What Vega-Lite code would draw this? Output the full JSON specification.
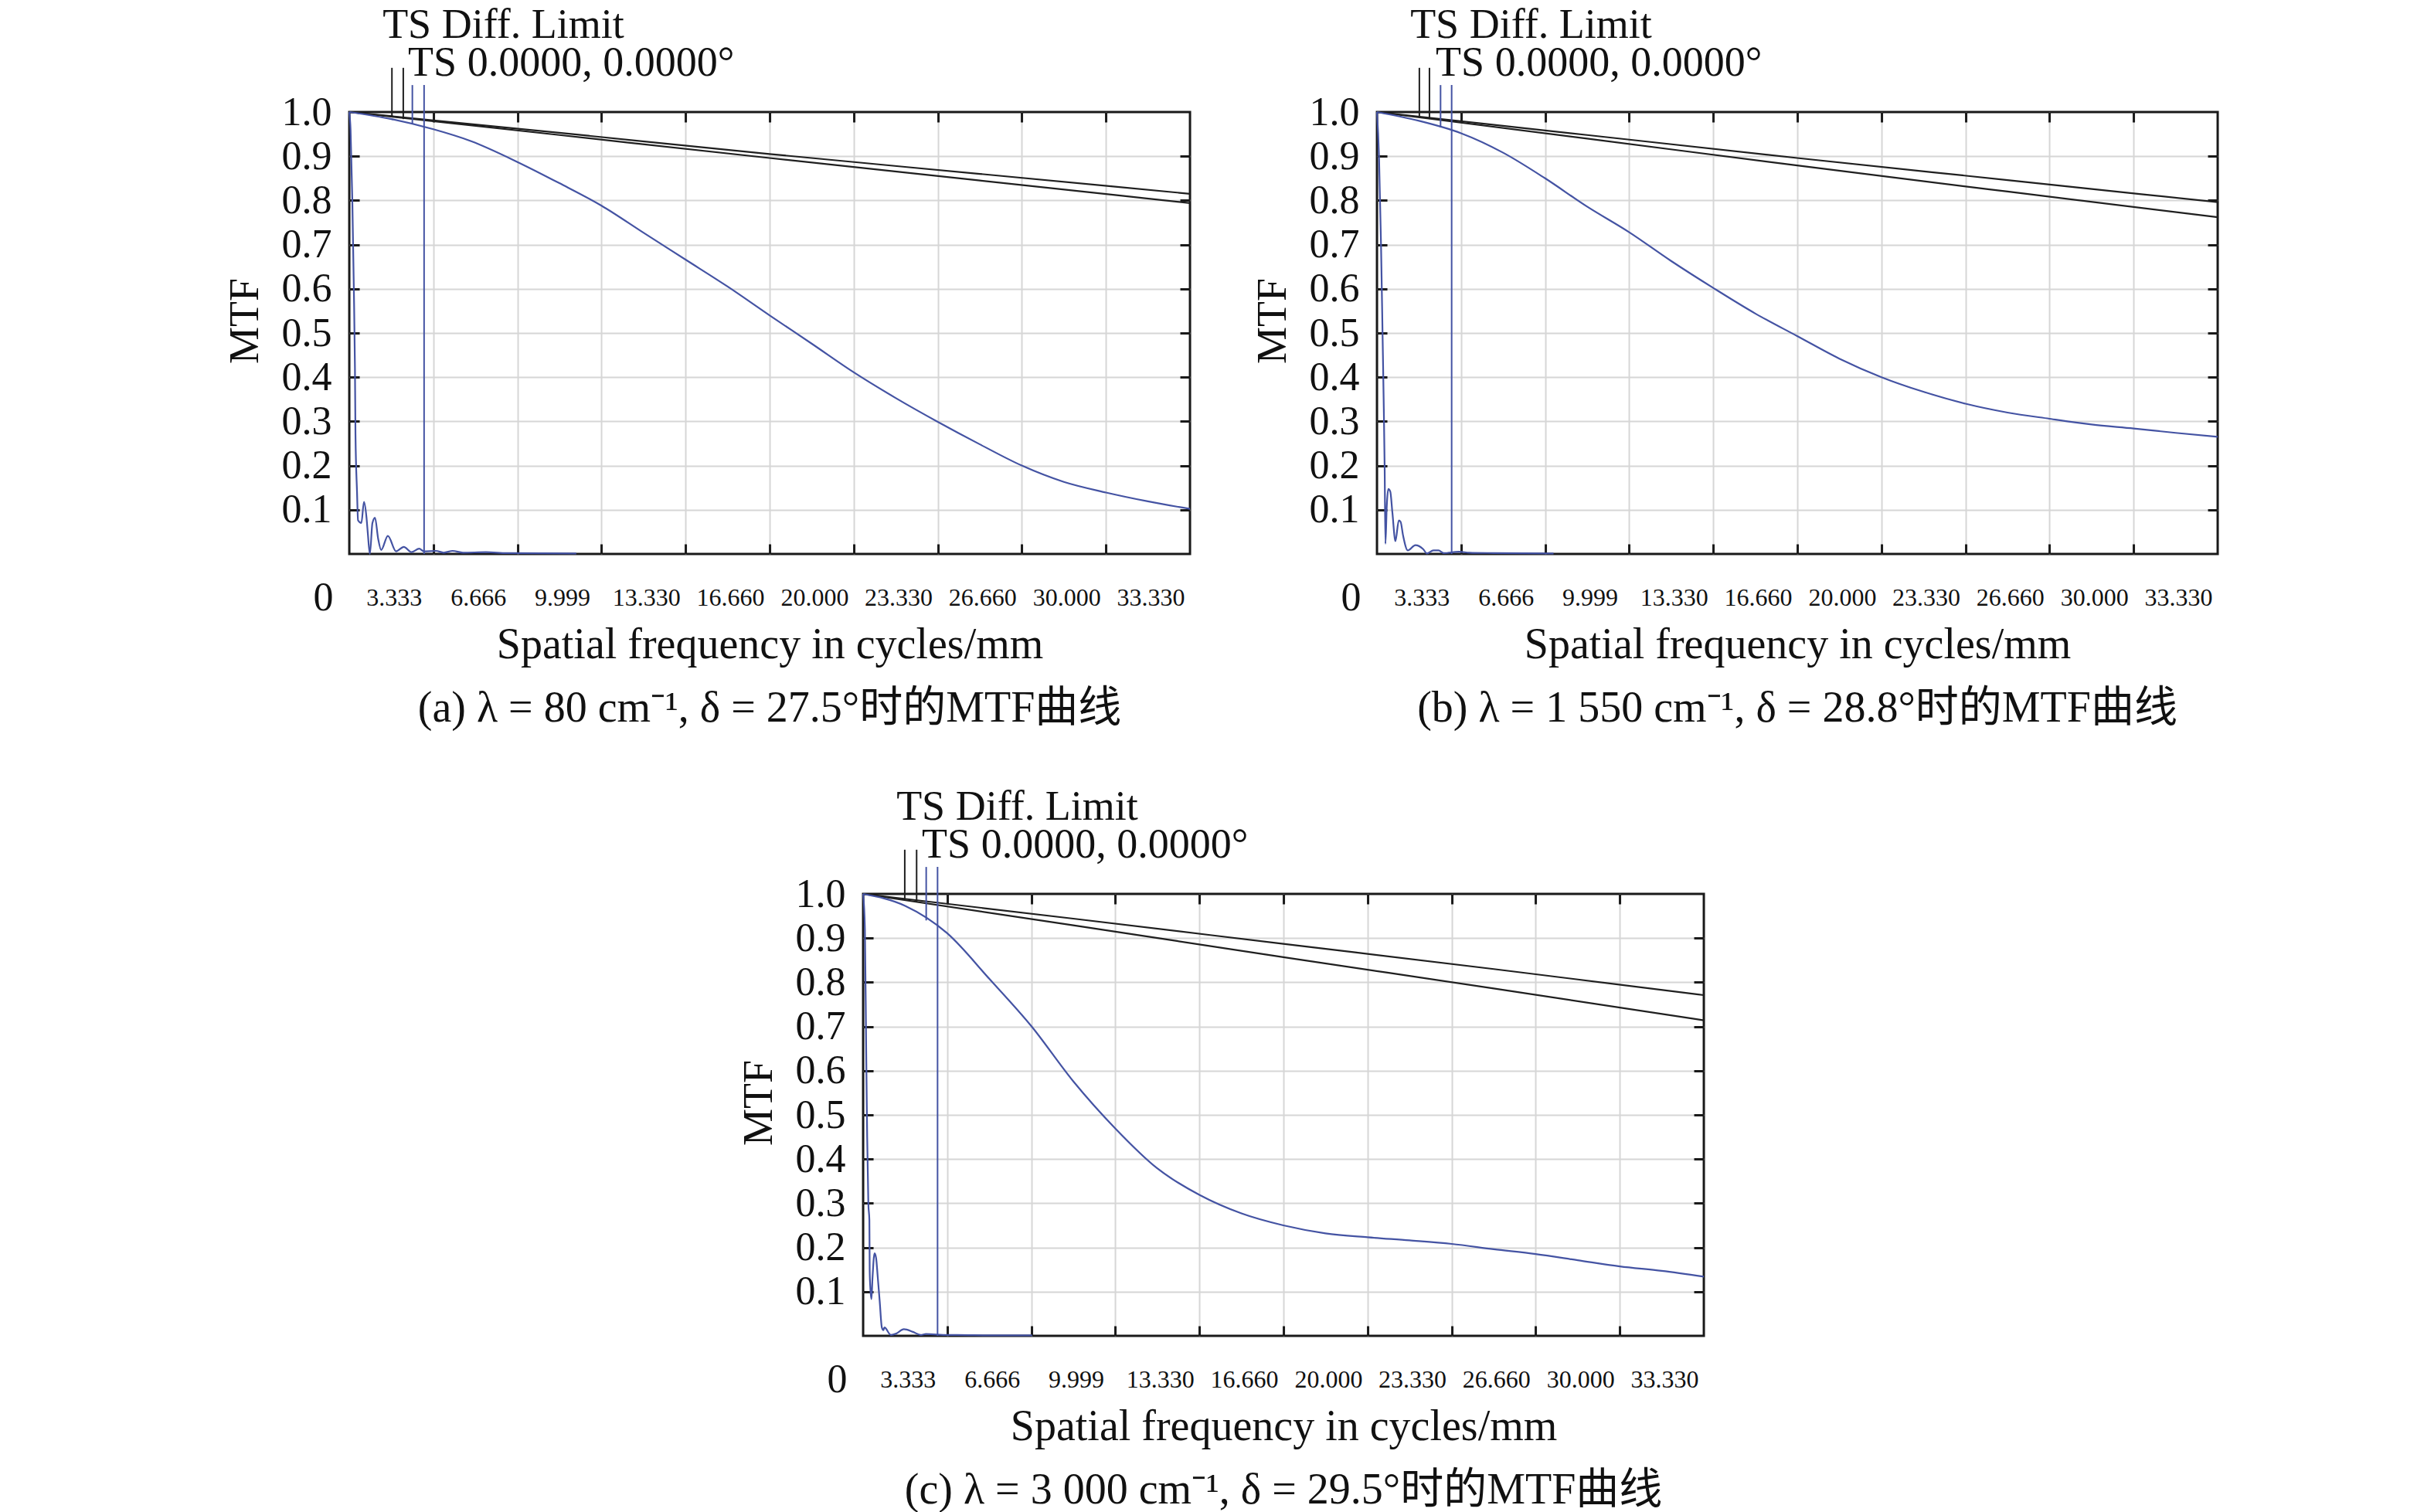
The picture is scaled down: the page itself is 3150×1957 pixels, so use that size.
{
  "$schema": "https://vega.github.io/schema/vega-lite/v6.json",
  "background": "white",
  "padding": {"left": 288, "top": 4, "right": 10, "bottom": 0},
  "config": {
    "font": "Liberation Serif",
    "view": {"stroke": "#1a1a1a", "strokeWidth": 3},
    "axis": {"labelFont": "Liberation Serif", "titleFont": "Liberation Serif", "labelColor": "#111111", "titleColor": "#111111", "titleFontWeight": "normal"},
    "title": {"font": "Liberation Serif, Noto Sans CJK SC", "fontWeight": "normal", "color": "#111111"},
    "text": {"font": "Liberation Serif"}
  },
  "datasets": {
    "labels": [
      {"f": 1.32, "y": 1.167, "label": "TS Diff. Limit"},
      {"f": 2.33, "y": 1.082, "label": "TS 0.0000, 0.0000°"}
    ],
    "a_lead": [
      {"s": "diffT", "f": 1.69, "y1": 1.1, "y2": 0.988},
      {"s": "diffS", "f": 2.14, "y1": 1.1, "y2": 0.984},
      {"s": "T", "f": 2.5, "y1": 1.061, "y2": 0.973},
      {"s": "S", "f": 2.965, "y1": 1.061, "y2": 0.0}
    ],
    "b_lead": [
      {"s": "diffT", "f": 1.68, "y1": 1.1, "y2": 0.988},
      {"s": "diffS", "f": 2.08, "y1": 1.1, "y2": 0.984},
      {"s": "T", "f": 2.52, "y1": 1.061, "y2": 0.965},
      {"s": "S", "f": 2.96, "y1": 1.061, "y2": 0.0}
    ],
    "c_lead": [
      {"s": "diffT", "f": 1.65, "y1": 1.1, "y2": 0.987},
      {"s": "diffS", "f": 2.12, "y1": 1.1, "y2": 0.982},
      {"s": "T", "f": 2.5, "y1": 1.061, "y2": 0.94},
      {"s": "S", "f": 2.95, "y1": 1.061, "y2": 0.0}
    ],
    "a_lines": [
      {"s": "diffT", "f": 0, "m": 1}, {"s": "diffT", "f": 8.33, "m": 0.953}, {"s": "diffT", "f": 16.66, "m": 0.905}, {"s": "diffT", "f": 25, "m": 0.86}, {"s": "diffT", "f": 33.33, "m": 0.815},
      {"s": "diffS", "f": 0, "m": 1}, {"s": "diffS", "f": 8.33, "m": 0.948}, {"s": "diffS", "f": 16.66, "m": 0.896}, {"s": "diffS", "f": 25, "m": 0.845}, {"s": "diffS", "f": 33.33, "m": 0.794},
      {"s": "T", "f": 0, "m": 1}, {"s": "T", "f": 1.667, "m": 0.984}, {"s": "T", "f": 3.333, "m": 0.961}, {"s": "T", "f": 4.83, "m": 0.934}, {"s": "T", "f": 6.666, "m": 0.887}, {"s": "T", "f": 8.33, "m": 0.839}, {"s": "T", "f": 10, "m": 0.788}, {"s": "T", "f": 11.66, "m": 0.727}, {"s": "T", "f": 13.33, "m": 0.666}, {"s": "T", "f": 15, "m": 0.605}, {"s": "T", "f": 16.66, "m": 0.54}, {"s": "T", "f": 18.33, "m": 0.476}, {"s": "T", "f": 20, "m": 0.411}, {"s": "T", "f": 21.66, "m": 0.353}, {"s": "T", "f": 23.33, "m": 0.299}, {"s": "T", "f": 25, "m": 0.248}, {"s": "T", "f": 26.66, "m": 0.2}, {"s": "T", "f": 28.33, "m": 0.163}, {"s": "T", "f": 30, "m": 0.139}, {"s": "T", "f": 31.66, "m": 0.119}, {"s": "T", "f": 33.33, "m": 0.102},
      {"s": "S", "f": 0, "m": 1}, {"s": "S", "f": 0.05, "m": 0.96}, {"s": "S", "f": 0.12, "m": 0.8}, {"s": "S", "f": 0.18, "m": 0.6}, {"s": "S", "f": 0.224, "m": 0.42}, {"s": "S", "f": 0.245, "m": 0.27}, {"s": "S", "f": 0.306, "m": 0.141}, {"s": "S", "f": 0.347, "m": 0.076}, {"s": "S", "f": 0.479, "m": 0.07}, {"s": "S", "f": 0.581, "m": 0.118}, {"s": "S", "f": 0.683, "m": 0.082}, {"s": "S", "f": 0.734, "m": 0.047}, {"s": "S", "f": 0.815, "m": 0.0}, {"s": "S", "f": 0.917, "m": 0.07}, {"s": "S", "f": 1.019, "m": 0.082}, {"s": "S", "f": 1.142, "m": 0.035}, {"s": "S", "f": 1.264, "m": 0.009}, {"s": "S", "f": 1.529, "m": 0.041}, {"s": "S", "f": 1.855, "m": 0.006}, {"s": "S", "f": 2.161, "m": 0.016}, {"s": "S", "f": 2.467, "m": 0.004}, {"s": "S", "f": 2.772, "m": 0.012}, {"s": "S", "f": 2.956, "m": 0.006}, {"s": "S", "f": 3.435, "m": 0.007}, {"s": "S", "f": 3.741, "m": 0.003}, {"s": "S", "f": 4.098, "m": 0.007}, {"s": "S", "f": 4.505, "m": 0.003}, {"s": "S", "f": 5.42, "m": 0.004}, {"s": "S", "f": 6.24, "m": 0.002}, {"s": "S", "f": 9, "m": 0.001}
    ],
    "b_lines": [
      {"s": "diffT", "f": 0, "m": 1}, {"s": "diffT", "f": 8.33, "m": 0.948}, {"s": "diffT", "f": 16.66, "m": 0.896}, {"s": "diffT", "f": 25, "m": 0.846}, {"s": "diffT", "f": 33.33, "m": 0.796},
      {"s": "diffS", "f": 0, "m": 1}, {"s": "diffS", "f": 8.33, "m": 0.94}, {"s": "diffS", "f": 16.66, "m": 0.879}, {"s": "diffS", "f": 25, "m": 0.82}, {"s": "diffS", "f": 33.33, "m": 0.762},
      {"s": "T", "f": 0, "m": 1}, {"s": "T", "f": 1.667, "m": 0.98}, {"s": "T", "f": 3.333, "m": 0.952}, {"s": "T", "f": 5, "m": 0.908}, {"s": "T", "f": 6.666, "m": 0.85}, {"s": "T", "f": 8.33, "m": 0.786}, {"s": "T", "f": 10, "m": 0.728}, {"s": "T", "f": 11.66, "m": 0.663}, {"s": "T", "f": 13.33, "m": 0.602}, {"s": "T", "f": 15, "m": 0.544}, {"s": "T", "f": 16.66, "m": 0.493}, {"s": "T", "f": 18.33, "m": 0.442}, {"s": "T", "f": 20, "m": 0.4}, {"s": "T", "f": 21.66, "m": 0.367}, {"s": "T", "f": 23.33, "m": 0.34}, {"s": "T", "f": 25, "m": 0.32}, {"s": "T", "f": 26.66, "m": 0.306}, {"s": "T", "f": 28.33, "m": 0.293}, {"s": "T", "f": 30, "m": 0.284}, {"s": "T", "f": 31.66, "m": 0.274}, {"s": "T", "f": 33.33, "m": 0.265},
      {"s": "S", "f": 0, "m": 1}, {"s": "S", "f": 0.08, "m": 0.9}, {"s": "S", "f": 0.16, "m": 0.7}, {"s": "S", "f": 0.22, "m": 0.5}, {"s": "S", "f": 0.27, "m": 0.33}, {"s": "S", "f": 0.305, "m": 0.19}, {"s": "S", "f": 0.335, "m": 0.023}, {"s": "S", "f": 0.386, "m": 0.106}, {"s": "S", "f": 0.447, "m": 0.147}, {"s": "S", "f": 0.528, "m": 0.141}, {"s": "S", "f": 0.61, "m": 0.094}, {"s": "S", "f": 0.732, "m": 0.029}, {"s": "S", "f": 0.864, "m": 0.076}, {"s": "S", "f": 0.935, "m": 0.073}, {"s": "S", "f": 1.037, "m": 0.041}, {"s": "S", "f": 1.22, "m": 0.008}, {"s": "S", "f": 1.524, "m": 0.02}, {"s": "S", "f": 1.83, "m": 0.011}, {"s": "S", "f": 1.98, "m": 0.001}, {"s": "S", "f": 2.236, "m": 0.008}, {"s": "S", "f": 2.44, "m": 0.008}, {"s": "S", "f": 2.64, "m": 0.002}, {"s": "S", "f": 3.25, "m": 0.005}, {"s": "S", "f": 3.66, "m": 0.003}, {"s": "S", "f": 4.62, "m": 0.002}, {"s": "S", "f": 7, "m": 0.001}
    ],
    "c_lines": [
      {"s": "diffT", "f": 0, "m": 1}, {"s": "diffT", "f": 8.33, "m": 0.944}, {"s": "diffT", "f": 16.66, "m": 0.887}, {"s": "diffT", "f": 25, "m": 0.83}, {"s": "diffT", "f": 33.33, "m": 0.771},
      {"s": "diffS", "f": 0, "m": 1}, {"s": "diffS", "f": 8.33, "m": 0.929}, {"s": "diffS", "f": 16.66, "m": 0.857}, {"s": "diffS", "f": 25, "m": 0.786}, {"s": "diffS", "f": 33.33, "m": 0.714},
      {"s": "T", "f": 0, "m": 1}, {"s": "T", "f": 1.667, "m": 0.973}, {"s": "T", "f": 3.333, "m": 0.911}, {"s": "T", "f": 5, "m": 0.808}, {"s": "T", "f": 6.666, "m": 0.701}, {"s": "T", "f": 8.33, "m": 0.576}, {"s": "T", "f": 10, "m": 0.469}, {"s": "T", "f": 11.66, "m": 0.379}, {"s": "T", "f": 13.33, "m": 0.319}, {"s": "T", "f": 15, "m": 0.277}, {"s": "T", "f": 16.66, "m": 0.25}, {"s": "T", "f": 18.33, "m": 0.232}, {"s": "T", "f": 20, "m": 0.223}, {"s": "T", "f": 21.66, "m": 0.216}, {"s": "T", "f": 23.33, "m": 0.208}, {"s": "T", "f": 25, "m": 0.196}, {"s": "T", "f": 26.66, "m": 0.185}, {"s": "T", "f": 28.33, "m": 0.171}, {"s": "T", "f": 30, "m": 0.157}, {"s": "T", "f": 31.66, "m": 0.147}, {"s": "T", "f": 33.33, "m": 0.134},
      {"s": "S", "f": 0, "m": 1}, {"s": "S", "f": 0.07, "m": 0.92}, {"s": "S", "f": 0.12, "m": 0.65}, {"s": "S", "f": 0.16, "m": 0.45}, {"s": "S", "f": 0.206, "m": 0.3}, {"s": "S", "f": 0.247, "m": 0.262}, {"s": "S", "f": 0.26, "m": 0.147}, {"s": "S", "f": 0.288, "m": 0.106}, {"s": "S", "f": 0.329, "m": 0.083}, {"s": "S", "f": 0.37, "m": 0.13}, {"s": "S", "f": 0.453, "m": 0.187}, {"s": "S", "f": 0.514, "m": 0.176}, {"s": "S", "f": 0.576, "m": 0.135}, {"s": "S", "f": 0.658, "m": 0.077}, {"s": "S", "f": 0.741, "m": 0.019}, {"s": "S", "f": 0.802, "m": 0.013}, {"s": "S", "f": 0.844, "m": 0.019}, {"s": "S", "f": 1.1, "m": 0.002}, {"s": "S", "f": 1.31, "m": 0.005}, {"s": "S", "f": 1.615, "m": 0.015}, {"s": "S", "f": 1.975, "m": 0.009}, {"s": "S", "f": 2.284, "m": 0.002}, {"s": "S", "f": 2.49, "m": 0.004}, {"s": "S", "f": 3.36, "m": 0.002}, {"s": "S", "f": 3.72, "m": 0.002}, {"s": "S", "f": 5.06, "m": 0.001}, {"s": "S", "f": 6.7, "m": 0.001}
    ]
  },
  "vconcat": [
    {
      "hconcat": [
        {
          "width": 1088, "height": 572,
          "title": {"text": "(a) λ = 80 cm⁻¹, δ = 27.5°时的MTF曲线", "orient": "bottom", "anchor": "middle", "frame": "group", "fontSize": 56, "offset": 28, "baseline": "top"},
          "layer": [
            {
              "data": {"name": "a_lines"},
              "mark": {"type": "line", "strokeWidth": 2.2, "interpolate": "monotone"},
              "encoding": {
                "x": {"field": "f", "type": "quantitative", "scale": {"domain": [0, 33.33], "nice": false, "zero": false},
                  "axis": {"orient": "bottom", "values": [0, 3.333, 6.666, 9.999, 13.33, 16.66, 20, 23.33, 26.66, 30, 33.33], "domain": false, "ticks": false, "grid": true, "gridColor": "#d6d6d6", "gridWidth": 2, "gridOpacity": {"condition": {"test": "datum.value <= 0 || datum.value >= 33.33", "value": 0}, "value": 1}, "labelExpr": "datum.value == 0 ? '0' : format(datum.value, '.3f')", "labelAlign": "center", "labelBaseline": "middle", "labelPadding": 56, "labelFontSize": {"condition": {"test": "datum.value == 0", "value": 52}, "value": 32}, "labelOffset": {"condition": {"test": "datum.value == 0", "value": -34}, "value": -51}, "labelFlush": false, "labelOverlap": false, "title": "Spatial frequency in cycles/mm", "titleFontSize": 56, "titleX": 544, "titleY": 90, "titleAlign": "center", "titleBaseline": "top"}},
                "y": {"field": "m", "type": "quantitative", "scale": {"domain": [0, 1], "nice": false, "zero": false},
                  "axis": {"orient": "left", "values": [0.1, 0.2, 0.3, 0.4, 0.5, 0.6, 0.7, 0.8, 0.9, 1.0], "format": ".1f", "domain": false, "ticks": false, "grid": true, "gridColor": "#d6d6d6", "gridWidth": 2, "gridOpacity": {"condition": {"test": "datum.value >= 1", "value": 0}, "value": 1}, "labelFontSize": 52, "labelPadding": 23, "labelBaseline": "middle", "labelAlign": "right", "labelFlush": false, "labelOverlap": false, "title": "MTF", "titleFontSize": 54, "titleX": -135, "titleY": 270, "titleAlign": "center", "titleBaseline": "middle", "titleAngle": 270}},
                "color": {"field": "s", "type": "nominal", "scale": {"domain": ["diffT", "diffS", "T", "S"], "range": ["#1f1f1f", "#1f1f1f", "#4453a3", "#4453a3"]}, "legend": null}
              }
            },
            {
              "data": {"name": "a_lead"},
              "mark": {"type": "rule", "strokeWidth": 2},
              "encoding": {
                "x": {"field": "f", "type": "quantitative", "scale": {"domain": [0, 33.33], "nice": false, "zero": false},
                  "axis": {"orient": "top", "values": [3.333, 6.666, 9.999, 13.33, 16.66, 20, 23.33, 26.66, 30], "labels": false, "domain": false, "grid": false, "ticks": true, "tickSize": -13, "tickWidth": 3, "tickColor": "#1a1a1a", "title": null}},
                "y": {"field": "y1", "type": "quantitative", "scale": {"domain": [0, 1], "nice": false, "zero": false},
                  "axis": {"orient": "right", "values": [0.1, 0.2, 0.3, 0.4, 0.5, 0.6, 0.7, 0.8, 0.9], "labels": false, "domain": false, "grid": false, "ticks": true, "tickSize": -13, "tickWidth": 3, "tickColor": "#1a1a1a", "title": null}},
                "y2": {"field": "y2"},
                "color": {"field": "s", "type": "nominal", "legend": null}
              }
            },
            {
              "data": {"name": "labels"},
              "mark": {"type": "text", "align": "left", "baseline": "alphabetic", "fontSize": 54, "color": "#111111"},
              "encoding": {
                "x": {"field": "f", "type": "quantitative", "scale": {"domain": [0, 33.33], "nice": false, "zero": false},
                  "axis": {"orient": "bottom", "values": [3.333, 6.666, 9.999, 13.33, 16.66, 20, 23.33, 26.66, 30], "labels": false, "domain": false, "grid": false, "ticks": true, "tickSize": -13, "tickWidth": 3, "tickColor": "#1a1a1a", "title": null}},
                "y": {"field": "y", "type": "quantitative", "scale": {"domain": [0, 1], "nice": false, "zero": false},
                  "axis": {"orient": "left", "values": [0.1, 0.2, 0.3, 0.4, 0.5, 0.6, 0.7, 0.8, 0.9], "labels": false, "domain": false, "grid": false, "ticks": true, "tickSize": -13, "tickWidth": 3, "tickColor": "#1a1a1a", "title": null}},
                "text": {"field": "label"}
              }
            }
          ],
          "resolve": {"axis": {"x": "independent", "y": "independent"}}
        },
        {
          "width": 1088, "height": 572,
          "title": {"text": "(b) λ = 1 550 cm⁻¹, δ = 28.8°时的MTF曲线", "orient": "bottom", "anchor": "middle", "frame": "group", "fontSize": 56, "offset": 28, "baseline": "top"},
          "layer": [
            {
              "data": {"name": "b_lines"},
              "mark": {"type": "line", "strokeWidth": 2.2, "interpolate": "monotone"},
              "encoding": {
                "x": {"field": "f", "type": "quantitative", "scale": {"domain": [0, 33.33], "nice": false, "zero": false},
                  "axis": {"orient": "bottom", "values": [0, 3.333, 6.666, 9.999, 13.33, 16.66, 20, 23.33, 26.66, 30, 33.33], "domain": false, "ticks": false, "grid": true, "gridColor": "#d6d6d6", "gridWidth": 2, "gridOpacity": {"condition": {"test": "datum.value <= 0 || datum.value >= 33.33", "value": 0}, "value": 1}, "labelExpr": "datum.value == 0 ? '0' : format(datum.value, '.3f')", "labelAlign": "center", "labelBaseline": "middle", "labelPadding": 56, "labelFontSize": {"condition": {"test": "datum.value == 0", "value": 52}, "value": 32}, "labelOffset": {"condition": {"test": "datum.value == 0", "value": -34}, "value": -51}, "labelFlush": false, "labelOverlap": false, "title": "Spatial frequency in cycles/mm", "titleFontSize": 56, "titleX": 544, "titleY": 90, "titleAlign": "center", "titleBaseline": "top"}},
                "y": {"field": "m", "type": "quantitative", "scale": {"domain": [0, 1], "nice": false, "zero": false},
                  "axis": {"orient": "left", "values": [0.1, 0.2, 0.3, 0.4, 0.5, 0.6, 0.7, 0.8, 0.9, 1.0], "format": ".1f", "domain": false, "ticks": false, "grid": true, "gridColor": "#d6d6d6", "gridWidth": 2, "gridOpacity": {"condition": {"test": "datum.value >= 1", "value": 0}, "value": 1}, "labelFontSize": 52, "labelPadding": 23, "labelBaseline": "middle", "labelAlign": "right", "labelFlush": false, "labelOverlap": false, "title": "MTF", "titleFontSize": 54, "titleX": -135, "titleY": 270, "titleAlign": "center", "titleBaseline": "middle", "titleAngle": 270}},
                "color": {"field": "s", "type": "nominal", "scale": {"domain": ["diffT", "diffS", "T", "S"], "range": ["#1f1f1f", "#1f1f1f", "#4453a3", "#4453a3"]}, "legend": null}
              }
            },
            {
              "data": {"name": "b_lead"},
              "mark": {"type": "rule", "strokeWidth": 2},
              "encoding": {
                "x": {"field": "f", "type": "quantitative", "scale": {"domain": [0, 33.33], "nice": false, "zero": false},
                  "axis": {"orient": "top", "values": [3.333, 6.666, 9.999, 13.33, 16.66, 20, 23.33, 26.66, 30], "labels": false, "domain": false, "grid": false, "ticks": true, "tickSize": -13, "tickWidth": 3, "tickColor": "#1a1a1a", "title": null}},
                "y": {"field": "y1", "type": "quantitative", "scale": {"domain": [0, 1], "nice": false, "zero": false},
                  "axis": {"orient": "right", "values": [0.1, 0.2, 0.3, 0.4, 0.5, 0.6, 0.7, 0.8, 0.9], "labels": false, "domain": false, "grid": false, "ticks": true, "tickSize": -13, "tickWidth": 3, "tickColor": "#1a1a1a", "title": null}},
                "y2": {"field": "y2"},
                "color": {"field": "s", "type": "nominal", "legend": null}
              }
            },
            {
              "data": {"name": "labels"},
              "mark": {"type": "text", "align": "left", "baseline": "alphabetic", "fontSize": 54, "color": "#111111"},
              "encoding": {
                "x": {"field": "f", "type": "quantitative", "scale": {"domain": [0, 33.33], "nice": false, "zero": false},
                  "axis": {"orient": "bottom", "values": [3.333, 6.666, 9.999, 13.33, 16.66, 20, 23.33, 26.66, 30], "labels": false, "domain": false, "grid": false, "ticks": true, "tickSize": -13, "tickWidth": 3, "tickColor": "#1a1a1a", "title": null}},
                "y": {"field": "y", "type": "quantitative", "scale": {"domain": [0, 1], "nice": false, "zero": false},
                  "axis": {"orient": "left", "values": [0.1, 0.2, 0.3, 0.4, 0.5, 0.6, 0.7, 0.8, 0.9], "labels": false, "domain": false, "grid": false, "ticks": true, "tickSize": -13, "tickWidth": 3, "tickColor": "#1a1a1a", "title": null}},
                "text": {"field": "label"}
              }
            }
          ],
          "resolve": {"axis": {"x": "independent", "y": "independent"}}
        }
      ],
      "spacing": 242,
      "bounds": "flush"
    },
    {
      "width": 1088, "height": 572,
      "title": {"text": "(c) λ = 3 000 cm⁻¹, δ = 29.5°时的MTF曲线", "orient": "bottom", "anchor": "middle", "frame": "group", "fontSize": 56, "offset": 28, "baseline": "top"},
      "layer": [
        {
          "data": {"name": "c_lines"},
          "mark": {"type": "line", "strokeWidth": 2.2, "interpolate": "monotone"},
          "encoding": {
            "x": {"field": "f", "type": "quantitative", "scale": {"domain": [0, 33.33], "nice": false, "zero": false},
              "axis": {"orient": "bottom", "values": [0, 3.333, 6.666, 9.999, 13.33, 16.66, 20, 23.33, 26.66, 30, 33.33], "domain": false, "ticks": false, "grid": true, "gridColor": "#d6d6d6", "gridWidth": 2, "gridOpacity": {"condition": {"test": "datum.value <= 0 || datum.value >= 33.33", "value": 0}, "value": 1}, "labelExpr": "datum.value == 0 ? '0' : format(datum.value, '.3f')", "labelAlign": "center", "labelBaseline": "middle", "labelPadding": 56, "labelFontSize": {"condition": {"test": "datum.value == 0", "value": 52}, "value": 32}, "labelOffset": {"condition": {"test": "datum.value == 0", "value": -34}, "value": -51}, "labelFlush": false, "labelOverlap": false, "title": "Spatial frequency in cycles/mm", "titleFontSize": 56, "titleX": 544, "titleY": 90, "titleAlign": "center", "titleBaseline": "top"}},
            "y": {"field": "m", "type": "quantitative", "scale": {"domain": [0, 1], "nice": false, "zero": false},
              "axis": {"orient": "left", "values": [0.1, 0.2, 0.3, 0.4, 0.5, 0.6, 0.7, 0.8, 0.9, 1.0], "format": ".1f", "domain": false, "ticks": false, "grid": true, "gridColor": "#d6d6d6", "gridWidth": 2, "gridOpacity": {"condition": {"test": "datum.value >= 1", "value": 0}, "value": 1}, "labelFontSize": 52, "labelPadding": 23, "labelBaseline": "middle", "labelAlign": "right", "labelFlush": false, "labelOverlap": false, "title": "MTF", "titleFontSize": 54, "titleX": -135, "titleY": 270, "titleAlign": "center", "titleBaseline": "middle", "titleAngle": 270}},
            "color": {"field": "s", "type": "nominal", "scale": {"domain": ["diffT", "diffS", "T", "S"], "range": ["#1f1f1f", "#1f1f1f", "#4453a3", "#4453a3"]}, "legend": null}
          }
        },
        {
          "data": {"name": "c_lead"},
          "mark": {"type": "rule", "strokeWidth": 2},
          "encoding": {
            "x": {"field": "f", "type": "quantitative", "scale": {"domain": [0, 33.33], "nice": false, "zero": false},
              "axis": {"orient": "top", "values": [3.333, 6.666, 9.999, 13.33, 16.66, 20, 23.33, 26.66, 30], "labels": false, "domain": false, "grid": false, "ticks": true, "tickSize": -13, "tickWidth": 3, "tickColor": "#1a1a1a", "title": null}},
            "y": {"field": "y1", "type": "quantitative", "scale": {"domain": [0, 1], "nice": false, "zero": false},
              "axis": {"orient": "right", "values": [0.1, 0.2, 0.3, 0.4, 0.5, 0.6, 0.7, 0.8, 0.9], "labels": false, "domain": false, "grid": false, "ticks": true, "tickSize": -13, "tickWidth": 3, "tickColor": "#1a1a1a", "title": null}},
            "y2": {"field": "y2"},
            "color": {"field": "s", "type": "nominal", "legend": null}
          }
        },
        {
          "data": {"name": "labels"},
          "mark": {"type": "text", "align": "left", "baseline": "alphabetic", "fontSize": 54, "color": "#111111"},
          "encoding": {
            "x": {"field": "f", "type": "quantitative", "scale": {"domain": [0, 33.33], "nice": false, "zero": false},
              "axis": {"orient": "bottom", "values": [3.333, 6.666, 9.999, 13.33, 16.66, 20, 23.33, 26.66, 30], "labels": false, "domain": false, "grid": false, "ticks": true, "tickSize": -13, "tickWidth": 3, "tickColor": "#1a1a1a", "title": null}},
            "y": {"field": "y", "type": "quantitative", "scale": {"domain": [0, 1], "nice": false, "zero": false},
              "axis": {"orient": "left", "values": [0.1, 0.2, 0.3, 0.4, 0.5, 0.6, 0.7, 0.8, 0.9], "labels": false, "domain": false, "grid": false, "ticks": true, "tickSize": -13, "tickWidth": 3, "tickColor": "#1a1a1a", "title": null}},
            "text": {"field": "label"}
          }
        }
      ],
      "resolve": {"axis": {"x": "independent", "y": "independent"}}
    }
  ],
  "spacing": 69,
  "bounds": "full",
  "center": true
}
